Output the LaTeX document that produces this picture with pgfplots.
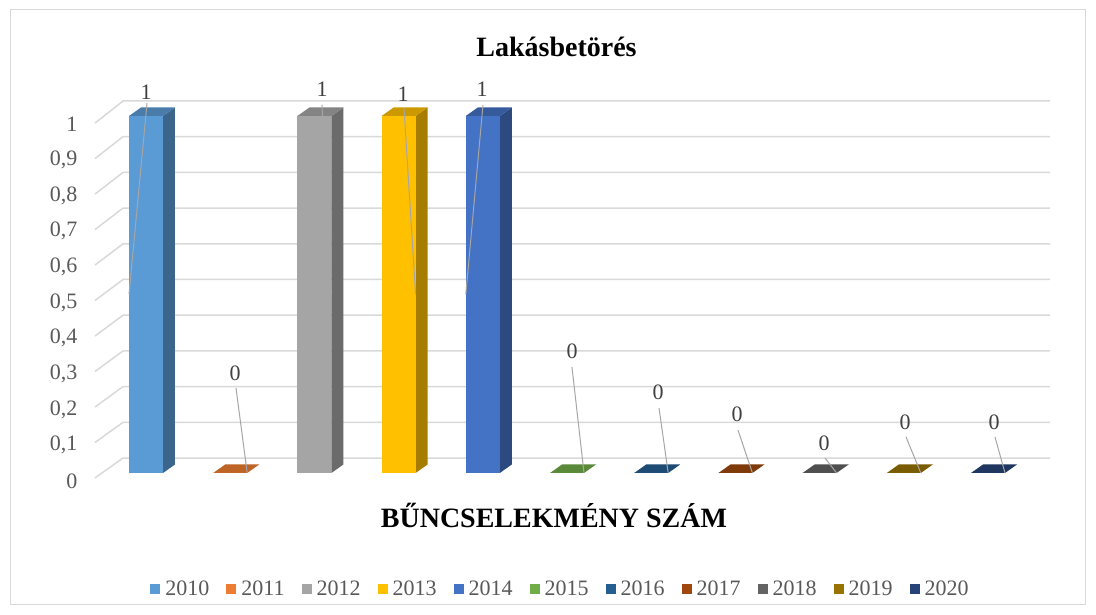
\documentclass[border=0pt]{standalone}
\usepackage{fontspec}
\setmainfont{Liberation Serif}
\usepackage{pgfplots}
\pgfplotsset{compat=1.18}
\definecolor{c0}{HTML}{5B9BD5}
\definecolor{c1}{HTML}{ED7D31}
\definecolor{c2}{HTML}{A5A5A5}
\definecolor{c3}{HTML}{FFC000}
\definecolor{c4}{HTML}{4472C4}
\definecolor{c5}{HTML}{70AD47}
\definecolor{c6}{HTML}{255E91}
\definecolor{c7}{HTML}{9E480E}
\definecolor{c8}{HTML}{636363}
\definecolor{c9}{HTML}{997300}
\definecolor{c10}{HTML}{264478}
\definecolor{tickgray}{HTML}{595959}
\definecolor{labgray}{HTML}{404040}
\definecolor{gridgray}{HTML}{D9D9D9}
\definecolor{leadgray}{HTML}{A6A6A6}
\pgfplotsset{
  frontbar/.style={ybar, bar width=0.4038, bar shift=0pt, draw=none, fill=#1,
    legend image code/.code={\fill[#1] (0pt,-5pt) rectangle (10pt,5pt);}},
  sideface/.style={forget plot, draw=none, fill=#1!65!black},
  topface/.style={forget plot, draw=none, fill=#1!80!black},
  gridln/.style={forget plot, draw=gridgray, line width=1.5pt, mark=none},
  leader/.style={forget plot, draw=leadgray, line width=1pt, mark=none},
  lab/.style 2 args={nodes near coords,
    every node near coord/.append style={anchor=center, xshift=#1pt, yshift=#2pt}},
}
\begin{document}
\begin{tikzpicture}
\useasboundingbox (0,0) rectangle (1096pt,615pt);
\fill[white] (0,0) rectangle (1096pt,615pt);
\draw[gridgray, line width=1pt] (10pt,10pt) rectangle (1085pt,605pt);
\begin{axis}[
  at={(146pt,142pt)}, anchor=origin,
  x=84.2pt, y=357pt,
  xmin=-0.8, xmax=10.9, ymin=-0.15, ymax=1.2,
  clip=false,
  axis line style={draw=none},
  major tick length=0pt,
  xtick=\empty,
  ytick={0,0.1,0.2,0.3,0.4,0.5,0.6,0.7,0.8,0.9,1},
  yticklabel style={anchor=east, inner sep=0pt, xshift=-1pt, yshift=-8pt,
    font=\fontsize{22}{26}\selectfont, text=tickgray},
  /pgf/number format/.cd, fixed, precision=1, use comma, assume math mode=true,
  /pgfplots/.cd,
  every node near coord/.append style={font=\fontsize{22}{26}\selectfont, text=labgray, inner sep=0pt},
  legend style={
    at={(0.4906,-0.1295)}, anchor=center,
    draw=none, fill=none,
    legend columns=11,
    font=\fontsize{22}{26}\selectfont,
    text=tickgray,
    /tikz/every even column/.append style={column sep=12pt},
    nodes={inner xsep=5pt, inner ysep=1pt},
  },
]
% grid lines (side wall + back wall)
\addplot[gridln] coordinates {(-0.606,-0.014) (-0.273,0.042) (10.736,0.042)};
\addplot[gridln] coordinates {(-0.606,0.0854) (-0.273,0.142) (10.736,0.142)};
\addplot[gridln] coordinates {(-0.606,0.1848) (-0.273,0.242) (10.736,0.242)};
\addplot[gridln] coordinates {(-0.606,0.2842) (-0.273,0.342) (10.736,0.342)};
\addplot[gridln] coordinates {(-0.606,0.3836) (-0.273,0.442) (10.736,0.442)};
\addplot[gridln] coordinates {(-0.606,0.483) (-0.273,0.542) (10.736,0.542)};
\addplot[gridln] coordinates {(-0.606,0.5824) (-0.273,0.642) (10.736,0.642)};
\addplot[gridln] coordinates {(-0.606,0.6818) (-0.273,0.742) (10.736,0.742)};
\addplot[gridln] coordinates {(-0.606,0.7812) (-0.273,0.842) (10.736,0.842)};
\addplot[gridln] coordinates {(-0.606,0.8806) (-0.273,0.942) (10.736,0.942)};
\addplot[gridln] coordinates {(-0.606,0.980) (-0.273,1.042) (10.736,1.042)};
% 2010 : 1
\addplot[sideface=c0] coordinates {(0.2019,0) (0.3444,0.0238) (0.3444,1.0238) (0.2019,1)} -- cycle;
\addplot[topface=c0] coordinates {(-0.2019,1) (0.2019,1) (0.3444,1.0238) (-0.0594,1.0238)} -- cycle;
\addplot[frontbar=c0, lab={0}{24}] coordinates {(0,1)};
% 2011 : 0
\addplot[topface=c1] coordinates {(0.7981,0) (1.2019,0) (1.3444,0.0238) (0.9406,0.0238)} -- cycle;
\addplot[frontbar=c1, lab={4.8}{100}] coordinates {(1,0)};
% 2012 : 1
\addplot[sideface=c2] coordinates {(2.2019,0) (2.3444,0.0238) (2.3444,1.0238) (2.2019,1)} -- cycle;
\addplot[topface=c2] coordinates {(1.7981,1) (2.2019,1) (2.3444,1.0238) (1.9406,1.0238)} -- cycle;
\addplot[frontbar=c2, lab={7.6}{27}] coordinates {(2,1)};
% 2013 : 1
\addplot[sideface=c3] coordinates {(3.2019,0) (3.3444,0.0238) (3.3444,1.0238) (3.2019,1)} -- cycle;
\addplot[topface=c3] coordinates {(2.7981,1) (3.2019,1) (3.3444,1.0238) (2.9406,1.0238)} -- cycle;
\addplot[frontbar=c3, lab={4.4}{22}] coordinates {(3,1)};
% 2014 : 1
\addplot[sideface=c4] coordinates {(4.2019,0) (4.3444,0.0238) (4.3444,1.0238) (4.2019,1)} -- cycle;
\addplot[topface=c4] coordinates {(3.7981,1) (4.2019,1) (4.3444,1.0238) (3.9406,1.0238)} -- cycle;
\addplot[frontbar=c4, lab={-0.8}{27}] coordinates {(4,1)};
% 2015 : 0
\addplot[topface=c5] coordinates {(4.7981,0) (5.2019,0) (5.3444,0.0238) (4.9406,0.0238)} -- cycle;
\addplot[frontbar=c5, lab={5}{122}] coordinates {(5,0)};
% 2016 : 0
\addplot[topface=c6] coordinates {(5.7981,0) (6.2019,0) (6.3444,0.0238) (5.9406,0.0238)} -- cycle;
\addplot[frontbar=c6, lab={6.8}{81}] coordinates {(6,0)};
% 2017 : 0
\addplot[topface=c7] coordinates {(6.7981,0) (7.2019,0) (7.3444,0.0238) (6.9406,0.0238)} -- cycle;
\addplot[frontbar=c7, lab={1.6}{59}] coordinates {(7,0)};
% 2018 : 0
\addplot[topface=c8] coordinates {(7.7981,0) (8.2019,0) (8.3444,0.0238) (7.9406,0.0238)} -- cycle;
\addplot[frontbar=c8, lab={4.4}{30}] coordinates {(8,0)};
% 2019 : 0
\addplot[topface=c9] coordinates {(8.7981,0) (9.2019,0) (9.3444,0.0238) (8.9406,0.0238)} -- cycle;
\addplot[frontbar=c9, lab={1.2}{51}] coordinates {(9,0)};
% 2020 : 0
\addplot[topface=c10] coordinates {(9.7981,0) (10.2019,0) (10.3444,0.0238) (9.9406,0.0238)} -- cycle;
\addplot[frontbar=c10, lab={6}{51}] coordinates {(10,0)};
% leader lines
\addplot[leader] coordinates {(0.012,1.036) (-0.2019,0.5)};
\addplot[leader] coordinates {(1.069,0.238) (1.2019,0)};
\addplot[leader] coordinates {(2.090,1.031) (2.2019,0.5)};
\addplot[leader] coordinates {(3.064,1.022) (3.2019,0.5)};
\addplot[leader] coordinates {(4.002,1.031) (3.7981,0.5)};
\addplot[leader] coordinates {(5.059,0.297) (5.2019,0)};
\addplot[leader] coordinates {(6.093,0.182) (6.2019,0)};
\addplot[leader] coordinates {(7.031,0.120) (7.2019,0)};
\addplot[leader] coordinates {(8.064,0.042) (8.2019,0)};
\addplot[leader] coordinates {(9.026,0.101) (9.2019,0)};
\addplot[leader] coordinates {(10.083,0.101) (10.2019,0)};
\legend{2010,2011,2012,2013,2014,2015,2016,2017,2018,2019,2020}
\end{axis}
\node[anchor=base, font=\bfseries\fontsize{28}{32}\selectfont] at (556.5pt,558pt) {Lakásbetörés};
\node[anchor=base, font=\bfseries\fontsize{28}{32}\selectfont] at (554pt,87pt) {BŰNCSELEKMÉNY SZÁM};
\end{tikzpicture}
\end{document}
